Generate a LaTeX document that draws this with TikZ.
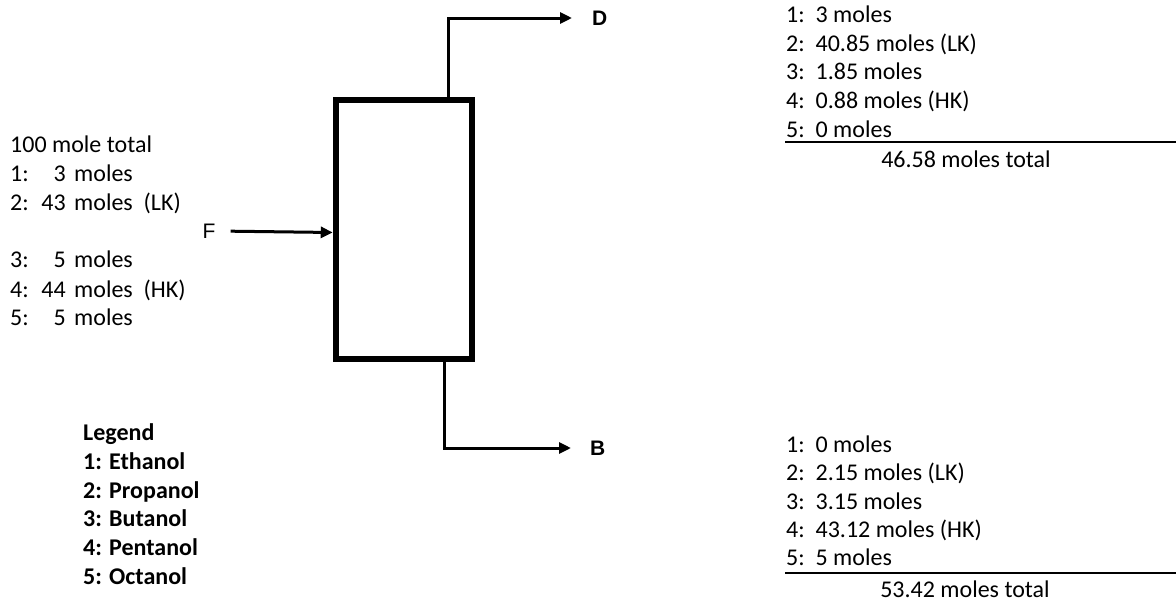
\documentclass[tikz,border=0pt]{standalone}
\usepackage{fontspec}
\setmainfont{Carlito}
\newfontfamily\arialfont{Liberation Sans}
\usetikzlibrary{arrows.meta}
\begin{document}
\begin{tikzpicture}[x=1pt,y=-1pt,
  every node/.style={inner sep=0pt, font=\fontsize{24}{29}\selectfont},
  txt/.style={anchor=base west},
  num/.style={anchor=base east},
  lbl/.style={font=\arialfont\fontsize{21}{24}\selectfont},
  blbl/.style={font=\arialfont\bfseries\fontsize{21}{24}\selectfont, anchor=west},
  stream/.style={line width=3pt, -{Triangle[length=12pt,width=11pt]}},
  column/.style={draw, line width=6.5pt, minimum width=136pt, minimum height=259pt}]
\useasboundingbox (0,0) rectangle (1176,605);
% column
\node[column] (col) at (404,229.5) {};
% labels
\node[blbl] (D) at (592,18) {D};
\node[blbl] (B) at (590,448) {B};
\node[lbl] (F) at (209,231) {F};
% streams
\draw[stream, shorten >=20pt] ([xshift=44pt]col.north) |- (D.west);
\draw[stream, shorten >=19pt] ([xshift=40pt]col.south) |- (B.west);
\draw[stream, shorten <=15pt] (F.east) -- ([yshift=-3pt]col.west);
% feed composition
\node[txt] (ftot) at (10,152) {100 mole total};
\node[txt] (f1a) at (10,181) {1:};  \node[num] (f1b) at (66,181) {3};  \node[txt] (f1c) at (74,181) {moles};
\node[txt] (f2a) at (10,210) {2:};  \node[num] (f2b) at (66,210) {43}; \node[txt] (f2c) at (74,210) {moles\ \ (LK)};
\node[txt] (f3a) at (10,267) {3:};  \node[num] (f3b) at (66,267) {5};  \node[txt] (f3c) at (74,267) {moles};
\node[txt] (f4a) at (10,297) {4:};  \node[num] (f4b) at (66,297) {44}; \node[txt] (f4c) at (74,297) {moles\ \ (HK)};
\node[txt] (f5a) at (10,325) {5:};  \node[num] (f5b) at (66,325) {5};  \node[txt] (f5c) at (74,325) {moles};
% distillate composition
\node[txt] (d1) at (786,23) {1:\ \ 3 moles};
\node[txt] (d2) at (786,51) {2:\ \ 40.85 moles (LK)};
\node[txt] (d3) at (786,79) {3:\ \ 1.85 moles};
\node[txt] (d4) at (786,108) {4:\ \ 0.88 moles (HK)};
\node[txt] (d5) at (786,137) {5:\ \ 0 moles};
\draw[line width=1.5pt] (785,142) -- (1176,142);
\node[anchor=base] (dtot) at (966,167) {46.58 moles total};
% bottoms composition
\node[txt] (b1) at (786,452) {1:\ \ 0 moles};
\node[txt] (b2) at (786,480) {2:\ \ 2.15 moles (LK)};
\node[txt] (b3) at (786,509) {3:\ \ 3.15 moles};
\node[txt] (b4) at (786,537) {4:\ \ 43.12 moles (HK)};
\node[txt] (b5) at (786,565) {5:\ \ 5 moles};
\draw[line width=1.5pt] (785,573) -- (1176,573);
\node[anchor=base] (btot) at (965,597) {53.42 moles total};
% legend
\begin{scope}[every node/.append style={font=\bfseries\fontsize{24}{29}\selectfont}]
\node[txt] (lg) at (83,440) {Legend};
\node[txt] (l1) at (83,469) {1: Ethanol};
\node[txt] (l2) at (83,498) {2: Propanol};
\node[txt] (l3) at (83,526) {3: Butanol};
\node[txt] (l4) at (83,555) {4: Pentanol};
\node[txt] (l5) at (83,584) {5: Octanol};
\end{scope}
\end{tikzpicture}
\end{document}
